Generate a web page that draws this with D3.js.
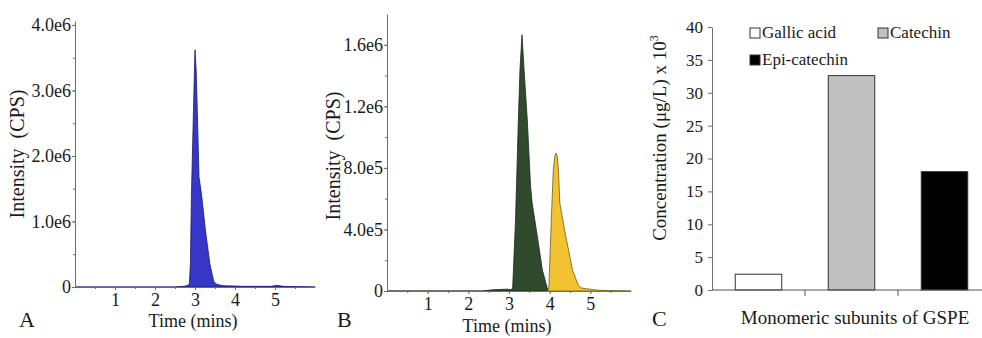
<!DOCTYPE html>
<html>
<head>
<meta charset="utf-8">
<script src="https://cdn.jsdelivr.net/npm/d3@7"></script>
<style>
  body { margin: 0; background: #fff; }
  svg text { fill: #1a1a1a; }
  .axis path, .axis line { stroke: #6e6e6e; }
</style>
</head>
<body>
<svg id="chart" width="982" height="338"></svg>
<script>
//
// Data
//

// Panel A: gallic acid chromatogram (time in mins, intensity in CPS x 1e6)
const timeA = [0, 2.5, 2.7, 2.8, 2.86, 2.885, 2.91, 2.95, 2.99, 3.0, 3.03, 3.07, 3.1, 3.17, 3.26, 3.37, 3.47, 3.55, 3.7, 4.0, 4.2, 4.9, 5.05, 5.2, 6.0];
const intensityA = [0, 0, 0.01, 0.02, 0.05, 0.36, 1.38, 2.4, 3.41, 3.62, 3.3, 2.4, 1.68, 1.38, 0.87, 0.36, 0.08, 0.04, 0.02, 0.015, 0.01, 0.01, 0.025, 0.01, 0];

// Panel B: catechin (green) and epi-catechin (yellow)
const timeB1 = [0, 2.35, 2.6, 2.8, 2.95, 3.05, 3.09, 3.16, 3.23, 3.27, 3.32, 3.37, 3.45, 3.53, 3.57, 3.7, 3.82, 3.94, 4.0];
const intensityB1 = [0, 0, 0.008, 0.01, 0.012, 0.008, 0.02, 0.46, 1.11, 1.44, 1.665, 1.44, 1.11, 0.68, 0.57, 0.35, 0.137, 0.02, 0];
const timeB2 = [3.95, 3.98, 4.04, 4.09, 4.13, 4.16, 4.19, 4.22, 4.25, 4.4, 4.56, 4.7, 4.77, 4.9, 5.05, 5.2, 6.0];
const intensityB2 = [0, 0.02, 0.46, 0.79, 0.88, 0.896, 0.87, 0.76, 0.57, 0.35, 0.137, 0.04, 0.02, 0.015, 0.01, 0.005, 0];

// Panel C: monomeric subunits (µg/L x 10^3)
const barCategories = ['Gallic acid', 'Catechin', 'Epi-catechin'];
const barValues = [2.4, 32.6, 18.0];
const barColors = ['#ffffff', '#c0c0c0', '#000000'];

// Ticks
const timeTicks = [1, 2, 3, 4, 5];
const yTicksA = [0, 1, 2, 3, 4];
const yTickLabelsA = ['0', '1.0e6', '2.0e6', '3.0e6', '4.0e6'];
const yTicksB = [0, 0.4, 0.8, 1.2, 1.6];
const yTickLabelsB = ['0', '4.0e5', '8.0e5', '1.2e6', '1.6e6'];
const yTicksC = [0, 5, 10, 15, 20, 25, 30, 35, 40];

const FONT = '"Liberation Serif", "Times New Roman", serif';
const svg = d3.select('#chart').style('font-family', FONT);

function chromatogram(opts) {
  const g = svg.append('g');
  const x = d3.scaleLinear().domain([0, 6]).range(opts.xRange);
  const y = d3.scaleLinear().domain(opts.yDomain).range(opts.yRange);

  // peaks
  opts.series.forEach((s) => {
    const pts = s.t.map((t, i) => [t, s.v[i]]);
    const area = d3.area().x(d => x(d[0])).y0(y(0)).y1(d => y(d[1]));
    g.append('path').attr('d', area(pts))
      .attr('fill', s.color).attr('stroke', s.stroke).attr('stroke-width', 0.8);
  });

  // axes
  const minorY = d3.range(opts.yMinorStep, opts.yDomain[1], opts.yMinorStep);
  g.append('g').attr('class', 'axis').attr('transform', `translate(${opts.xRange[0]},0)`)
    .call(d3.axisLeft(y).tickValues(minorY).tickSize(2).tickFormat(''))
    .call(a => a.select('.domain').remove());
  g.append('g').attr('class', 'axis').attr('transform', `translate(${opts.xRange[0]},0)`)
    .call(d3.axisLeft(y).tickValues(opts.yTicks).tickSize(3).tickSizeOuter(0)
      .tickFormat((d, i) => opts.yLabels[i]))
    .attr('font-family', FONT)
    .call(a => a.selectAll('text').attr('font-size', 18).attr('dx', 2));

  g.append('g').attr('class', 'axis').attr('transform', `translate(0,${opts.yRange[0]})`)
    .call(d3.axisBottom(x).tickValues(d3.range(0.5, 6, 0.5)).tickSize(2).tickFormat(''))
    .call(a => a.select('.domain').remove());
  g.append('g').attr('class', 'axis').attr('transform', `translate(0,${opts.yRange[0]})`)
    .call(d3.axisBottom(x).tickValues(timeTicks).tickSize(3).tickSizeOuter(0).tickFormat(d3.format('d')))
    .attr('font-family', FONT)
    .call(a => a.selectAll('text').attr('font-size', 18).attr('dy', '0.72em'));

  // titles
  g.append('text').attr('x', d3.mean(opts.xRange) - 2).attr('y', opts.xTitleY)
    .attr('text-anchor', 'middle').attr('font-size', 18).text('Time (mins)');
  g.append('text')
    .attr('transform', `translate(${opts.yTitleX},${opts.yTitleY}) rotate(-90)`)
    .attr('text-anchor', 'middle').attr('font-size', 20)
    .attr('xml:space', 'preserve').text('Intensity  (CPS)');
  g.append('text').attr('x', opts.letterX).attr('y', 327)
    .attr('font-size', 22).text(opts.letter);
}

chromatogram({
  xRange: [75, 315], yRange: [287, 21], yDomain: [0, 4.06],
  yTicks: yTicksA, yLabels: yTickLabelsA, yMinorStep: 0.5,
  series: [{t: timeA, v: intensityA, color: '#3636c9', stroke: '#1c1c6a'}],
  xTitleY: 327, yTitleX: 24, yTitleY: 154, letter: 'A', letterX: 19
});

chromatogram({
  xRange: [387, 631], yRange: [291, 14], yDomain: [0, 1.8],
  yTicks: yTicksB, yLabels: yTickLabelsB, yMinorStep: 0.2,
  series: [
    {t: timeB1, v: intensityB1, color: '#2f4a2c', stroke: '#1a2a18'},
    {t: timeB2, v: intensityB2, color: '#f3c230', stroke: '#6b5a20'}
  ],
  xTitleY: 332, yTitleX: 340, yTitleY: 156, letter: 'B', letterX: 337
});

//
// Panel C: bar chart
//
const gc = svg.append('g');
const xc = d3.scaleBand().domain(barCategories).range([712, 991]).paddingInner(0.5).paddingOuter(0.25);
const yc = d3.scaleLinear().domain([0, 40]).range([290, 27]);

gc.selectAll('rect.bar').data(barCategories).join('rect')
  .attr('class', 'bar')
  .attr('x', d => xc(d))
  .attr('width', xc.bandwidth())
  .attr('y', (d, i) => yc(barValues[i]))
  .attr('height', (d, i) => yc(0) - yc(barValues[i]))
  .attr('fill', (d, i) => barColors[i])
  .attr('stroke', '#333').attr('stroke-width', 1);

gc.append('g').attr('class', 'axis').attr('transform', 'translate(712,0)')
  .call(d3.axisLeft(yc).tickValues(yTicksC).tickSize(4).tickSizeOuter(0))
  .attr('font-family', FONT)
  .call(a => a.selectAll('text').attr('font-size', 17).attr('dx', -2));

// category axis with ticks between bands
const step = xc.step();
const bounds = barCategories.slice(1).map(d => xc(d) - step * xc.paddingInner() / 2);
gc.append('line').attr('x1', 712).attr('x2', 982).attr('y1', yc(0)).attr('y2', yc(0))
  .attr('stroke', '#555').attr('stroke-width', 1.2);
gc.selectAll('line.cat').data(bounds).join('line').attr('class', 'cat')
  .attr('x1', d => d).attr('x2', d => d).attr('y1', yc(0)).attr('y2', yc(0) + 6)
  .attr('stroke', '#555');

gc.append('text').attr('x', 855).attr('y', 324).attr('text-anchor', 'middle')
  .attr('font-size', 19).text('Monomeric subunits of GSPE');
gc.append('text').attr('x', 652).attr('y', 326).attr('font-size', 22).text('C');

const yTitle = gc.append('text')
  .attr('transform', 'translate(666,138) rotate(-90)')
  .attr('text-anchor', 'middle').attr('font-size', 19);
yTitle.append('tspan').text('Concentration (μg/L) x 10');
yTitle.append('tspan').attr('font-size', 12).attr('dy', -8).text('3');

// legend
const legendPos = [[750, 28], [878, 28], [750, 55]];
const lg = gc.selectAll('g.leg').data(barCategories).join('g').attr('class', 'leg')
  .attr('transform', (d, i) => `translate(${legendPos[i][0]},${legendPos[i][1]})`);
lg.append('rect').attr('width', 10).attr('height', 10)
  .attr('fill', (d, i) => barColors[i]).attr('stroke', '#333');
lg.append('text').attr('x', 12).attr('y', 10).attr('font-size', 17).text(d => d);
</script>
</body>
</html>
